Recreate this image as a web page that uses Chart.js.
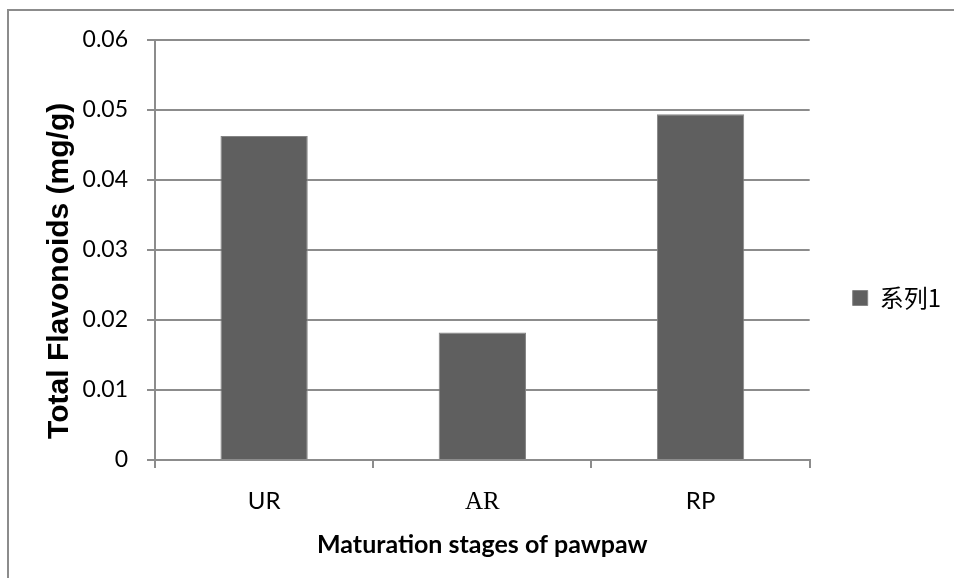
<!DOCTYPE html>
<html>
<head>
<meta charset="utf-8">
<script src="https://cdn.jsdelivr.net/npm/chart.js@4/dist/chart.umd.min.js"></script>
<style>
  html, body { margin: 0; padding: 0; background: #fff; }
  #wrap { width: 954px; height: 578px; position: relative; }
</style>
</head>
<body>
<div id="wrap"><canvas id="chart"></canvas></div>
<script>
// Data.
var categories = ['UR', 'AR', 'RP'];
var seriesName = '系列1';
var flavonoids = [0.0463, 0.0182, 0.0494];
var yTicks = [0, 0.01, 0.02, 0.03, 0.04, 0.05, 0.06];

var GRID = '#8c8c8c';
var BAR = '#5f5f5f';

// Light frame round the chart, as in the exported picture.
var framePlugin = {
  id: 'frame',
  afterDraw: function (chart) {
    var ctx = chart.ctx;
    ctx.save();
    ctx.strokeStyle = '#8c8c8c';
    ctx.lineWidth = 2;
    ctx.beginPath();
    ctx.moveTo(8, 578);
    ctx.lineTo(8, 10);
    ctx.lineTo(954, 10);
    ctx.stroke();
    ctx.restore();
  }
};

new Chart(document.getElementById('chart'), {
  type: 'bar',
  data: {
    labels: categories,
    datasets: [{
      label: seriesName,
      data: flavonoids,
      backgroundColor: BAR,
      borderColor: '#858585',
      borderWidth: 1,
      barPercentage: 0.4,
      categoryPercentage: 1
    }]
  },
  options: {
    responsive: true,
    maintainAspectRatio: false,
    animation: false,
    // bottom padding lifts the legend a little, as in the picture
    layout: { padding: { top: 40, left: 0, right: 3, bottom: 22 } },
    plugins: {
      tooltip: { enabled: false },
      legend: {
        position: 'right',
        labels: {
          boxWidth: 15,
          boxHeight: 15,
          padding: 43,
          color: '#000',
          font: { family: '"Noto Sans CJK SC", sans-serif', size: 24 }
        }
      }
    },
    scales: {
      x: {
        afterFit: function (s) { s.height = 96; },
        border: { color: GRID, width: 2 },
        grid: { offset: true, drawOnChartArea: false, drawTicks: true, tickLength: 8, color: GRID, lineWidth: 2 },
        ticks: {
          color: '#000',
          padding: 19,
          font: function (ctx) {
            return ctx.index === 1
              ? { family: '"Liberation Serif", serif', size: 25 }
              : { family: 'Lato, sans-serif', size: 24 };
          }
        },
        title: {
          display: true,
          text: 'Maturation stages of pawpaw',
          color: '#000',
          padding: { top: 0, bottom: 0 },
          font: { family: 'Lato, sans-serif', size: 25, weight: 'bold', lineHeight: 0.88 }
        }
      },
      y: {
        min: 0,
        max: 0.06,
        afterFit: function (s) { s.width = 155; },
        afterBuildTicks: function (s) {
          s.ticks = yTicks.map(function (v) { return { value: v }; });
        },
        border: { color: GRID, width: 2 },
        grid: { color: GRID, lineWidth: 2, tickLength: 8 },
        ticks: {
          color: '#000',
          padding: 19,
          font: { family: 'Lato, sans-serif', size: 23 },
          callback: function (v) { return v === 0 ? '0' : v.toFixed(2); }
        },
        title: {
          display: true,
          text: 'Total Flavonoids (mg/g)     ',
          color: '#000',
          padding: { top: 42, bottom: 0 },
          font: { family: '"Liberation Sans", Arial, sans-serif', size: 30, weight: 'bold' }
        }
      }
    }
  },
  plugins: [framePlugin]
});
</script>
</body>
</html>
